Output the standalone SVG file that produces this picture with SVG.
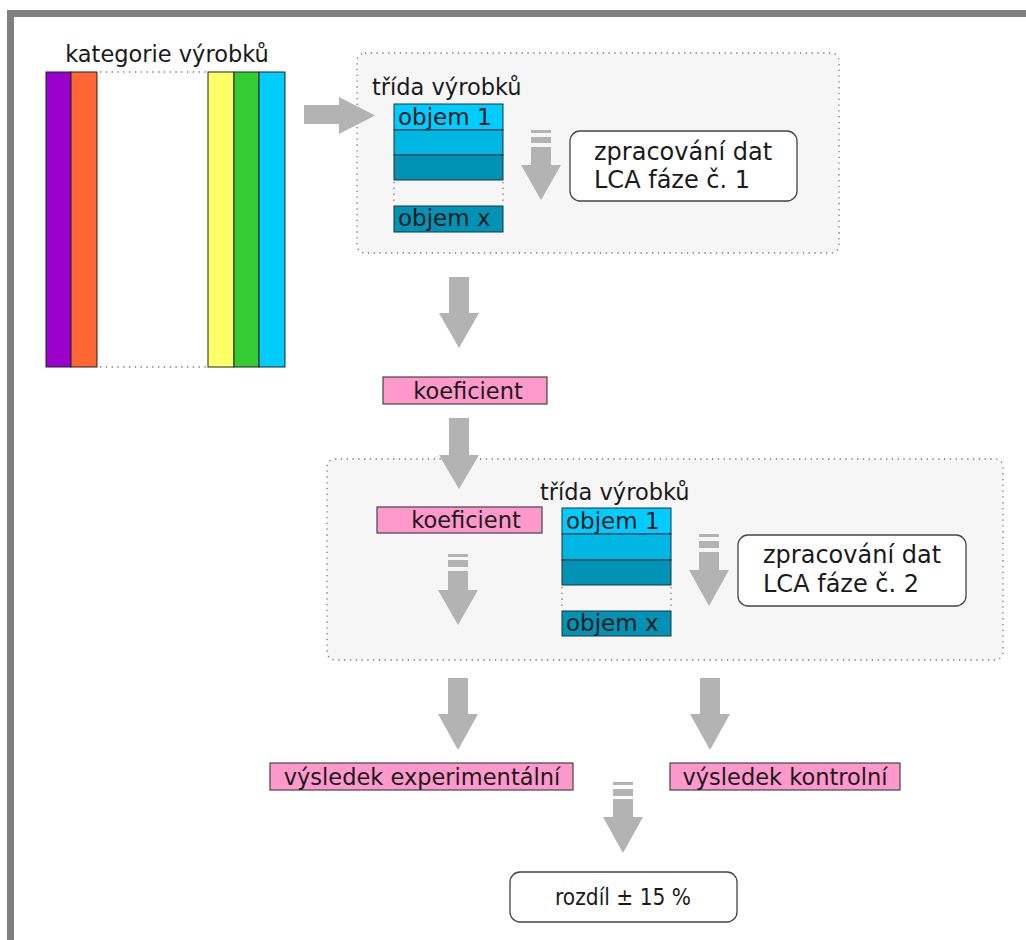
<svg xmlns="http://www.w3.org/2000/svg" width="1026" height="940" viewBox="0 0 1026 940">
<style>
text{font-family:"DejaVu Sans","Liberation Sans",sans-serif;fill:#1a1a1a;font-size:22.5px}
.arrow{fill:#b3b3b3}
.dot{fill:none;stroke:#777;stroke-width:1.3;stroke-dasharray:1.3 4.5}
.grp{fill:#f6f6f6;stroke:#777;stroke-width:1.3;stroke-dasharray:1.3 4.5}
.pink{fill:#ff99cc;stroke:#444;stroke-width:1.2}
.rbox{fill:#fff;stroke:#444;stroke-width:1.3}
.bar{stroke:#222;stroke-width:1}
.cell{stroke:#1d3540;stroke-width:1}
.big{font-size:24px}
.obj{font-size:23px}
</style>
<rect width="1026" height="940" fill="#fff"/>
<g id="frame"><path d="M10.5,940 V13.5 H1026" fill="none" stroke="#808080" stroke-width="7"/></g>

<g id="kategorie">
<text x="167" y="62" text-anchor="middle">kategorie výrobků</text>
<rect class="bar" x="46" y="72" width="25" height="295" fill="#9900cc"/>
<rect class="bar" x="71" y="72" width="26" height="295" fill="#ff6633"/>
<rect class="bar" x="208" y="72" width="26" height="295" fill="#ffff66"/>
<rect class="bar" x="234" y="72" width="25" height="295" fill="#33cc33"/>
<rect class="bar" x="259" y="72" width="26" height="295" fill="#00ccff"/>
<path class="dot" d="M100,72 H206 M100,367 H206"/>
</g>

<g id="trida1">
<rect class="grp" x="357" y="53" width="482" height="200" rx="8"/>
<text x="372" y="95">třída výrobků</text>
<rect class="cell" x="394" y="104" width="109" height="26" fill="#00ccff"/>
<rect class="cell" x="394" y="130" width="109" height="25" fill="#00b7e3"/>
<rect class="cell" x="394" y="155" width="109" height="25" fill="#0093b5"/>
<path class="dot" d="M394,182 V205 M503,182 V205"/>
<rect class="cell" x="394" y="206" width="109" height="26" fill="#0093b5"/>
<text class="obj" x="398" y="125">objem 1</text>
<text class="obj" x="398" y="226">objem x</text>
</g>

<g id="lca1">
<rect class="rbox" x="570" y="131" width="227" height="70" rx="10"/>
<text class="big" x="594" y="160">zpracování dat</text>
<text class="big" x="594" y="188">LCA fáze č. 1</text>
</g>

<g id="koef1">
<rect class="pink" x="383" y="377" width="164" height="27"/>
<text x="468" y="399" text-anchor="middle">koeficient</text>
</g>

<g id="trida2">
<rect class="grp" x="327" y="459" width="676" height="201" rx="8"/>
<text x="540" y="500">třída výrobků</text>
<rect class="cell" x="562" y="508" width="109" height="26" fill="#00ccff"/>
<rect class="cell" x="562" y="534" width="109" height="26" fill="#00b7e3"/>
<rect class="cell" x="562" y="560" width="109" height="25" fill="#0093b5"/>
<path class="dot" d="M562,587 V610 M671,587 V610"/>
<rect class="cell" x="562" y="611" width="109" height="25" fill="#0093b5"/>
<text class="obj" x="566" y="529">objem 1</text>
<text class="obj" x="566" y="631">objem x</text>
</g>

<g id="koef2">
<rect class="pink" x="377" y="507" width="165" height="26"/>
<text x="466" y="528" text-anchor="middle">koeficient</text>
</g>

<g id="lca2">
<rect class="rbox" x="738" y="535" width="228" height="71" rx="10"/>
<text class="big" x="763" y="563">zpracování dat</text>
<text class="big" x="763" y="592">LCA fáze č. 2</text>
</g>

<g id="vysledek-exp">
<rect class="pink" x="270" y="763" width="303" height="27"/>
<text x="422" y="785" text-anchor="middle">výsledek experimentální</text>
</g>

<g id="vysledek-kon">
<rect class="pink" x="670" y="763" width="230" height="27"/>
<text x="785" y="785" text-anchor="middle">výsledek kontrolní</text>
</g>

<g id="rozdil">
<rect class="rbox" x="510" y="872" width="227" height="50" rx="10"/>
<text x="623" y="905" text-anchor="middle" textLength="136" lengthAdjust="spacingAndGlyphs">rozdíl ± 15 %</text>
</g>

<g id="connectors">
<path class="arrow" d="M304,105 H339 V97 L375,115.5 L339,134 V124 H304 Z"/>
<path class="arrow" d="M449,277 H469 V313 H479 L459,348 L439,313 H449 Z"/>
<path class="arrow" d="M449,418 H469 V455 H479 L459,489 L439,455 H449 Z"/>
<path class="arrow" d="M448,678 H468 V714 H478 L458,750 L438,714 H448 Z"/>
<path class="arrow" d="M700,678 H720 V714 H730 L710,750 L690,714 H700 Z"/>
<path class="arrow" d="M531,130 h20 v3 h-20 Z M531,137 h20 v6 h-20 Z M531,147 H551 V165 H561 L541,200 L521,165 H531 Z"/>
<path class="arrow" d="M448,554 h20 v3 h-20 Z M448,560 h20 v7 h-20 Z M448,571 H468 V590 H478 L458,625 L438,590 H448 Z"/>
<path class="arrow" d="M699,534 h20 v3 h-20 Z M699,541 h20 v7 h-20 Z M699,552 H719 V570 H729 L709,606 L689,570 H699 Z"/>
<path class="arrow" d="M613,782 h20 v3 h-20 Z M613,789 h20 v7 h-20 Z M613,799 H633 V817 H643 L623,853 L603,817 H613 Z"/>
</g>
</svg>
